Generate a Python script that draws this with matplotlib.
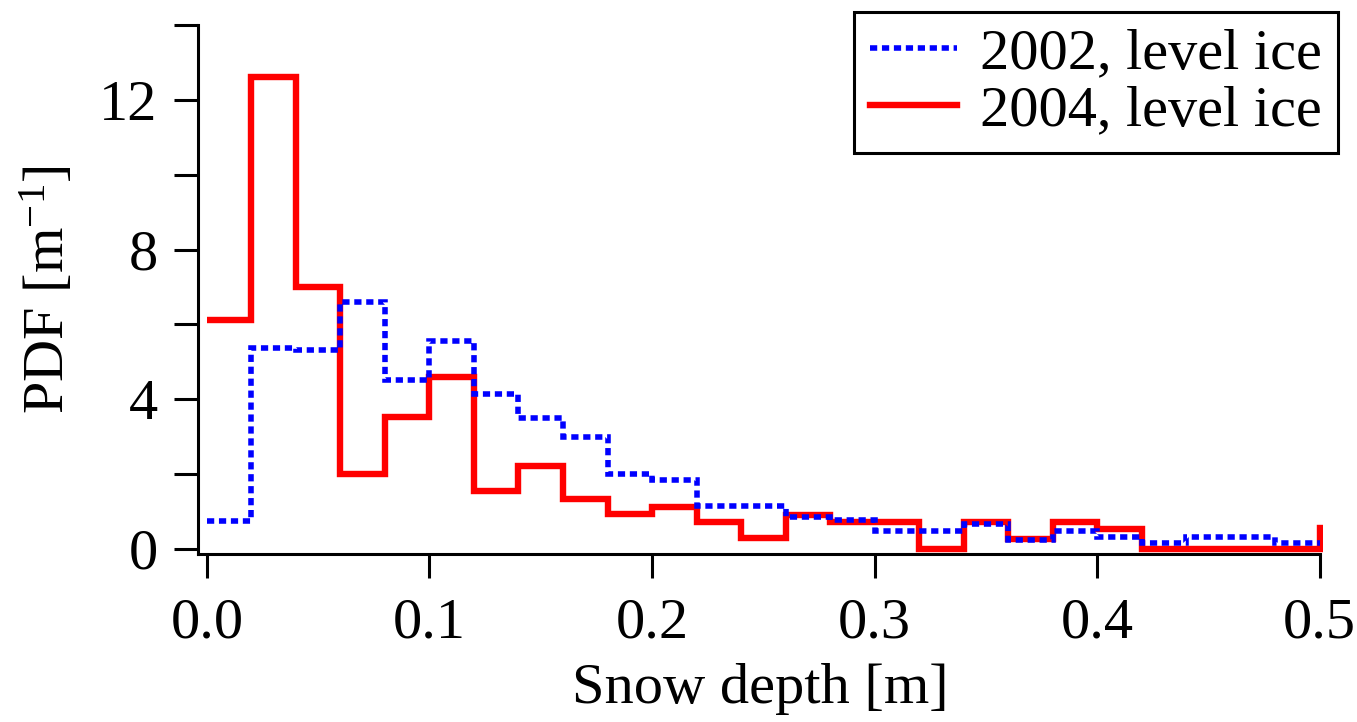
import numpy as np
import matplotlib
matplotlib.use("Agg")
import matplotlib.pyplot as plt
from matplotlib.ticker import MultipleLocator

plt.rcParams['font.family'] = ['Liberation Serif', 'DejaVu Serif']
plt.rcParams['mathtext.fontset'] = 'custom'
plt.rcParams['mathtext.rm'] = 'Liberation Serif'
plt.rcParams['mathtext.it'] = 'Liberation Serif:italic'

# bin edges of snow depth [m], 0.02 m bins
edges = np.round(np.arange(0, 0.5001, 0.02), 3)
# 2002, level ice
pdf_2002 = [0.74, 5.38, 5.31, 6.6, 4.52, 5.56, 4.15, 3.49, 2.98, 2.0,
            1.83, 1.14, 1.14, 0.86, 0.77, 0.49, 0.49, 0.67, 0.25, 0.49,
            0.31, 0.17, 0.31, 0.31, 0.17]
# 2004, level ice (last value is the bin just past 0.5 m)
pdf_2004 = [6.12, 12.62, 6.99, 2.0, 3.53, 4.59, 1.55, 2.22, 1.33, 0.94,
            1.12, 0.71, 0.28, 0.9, 0.71, 0.73, 0.0, 0.71, 0.26, 0.71,
            0.53, 0.0, 0.0, 0.0, 0.0, 0.55]
edges_2004 = np.append(edges, 0.52)

fig = plt.figure(figsize=(13.57, 7.22), dpi=100)
ax = fig.add_axes([0.1459, 0.232, 0.8291, 0.7334])

ax.stairs(pdf_2004, edges_2004, baseline=None, color='#ff0000', lw=4.6,
          label='2004, level ice')
ax.stairs(pdf_2002, edges, baseline=None, color='#0000ff', lw=4.0,
          linestyle=(0, (1.3, 0.85)), label='2002, level ice')

ax.set_xlim(-0.004, 0.5015)
ax.set_ylim(-0.15, 14)
ax.spines['top'].set_visible(False)
ax.spines['right'].set_visible(False)
ax.spines['bottom'].set_bounds(-0.004, 0.5)
for s in ('left', 'bottom'):
    ax.spines[s].set_linewidth(2.2)

ax.xaxis.set_major_locator(MultipleLocator(0.1))
ax.yaxis.set_major_locator(MultipleLocator(4))
ax.yaxis.set_minor_locator(MultipleLocator(2))
ax.xaxis.set_major_formatter(plt.FormatStrFormatter('%.1f'))
ax.tick_params(axis='both', which='both', direction='out', length=17,
               width=2.2, labelsize=42)
ax.tick_params(axis='x', pad=14)
ax.tick_params(axis='y', pad=12)

ax.set_xlabel('Snow depth [m]', fontsize=42)
ax.set_ylabel(r'PDF [m$^{-1}$]', fontsize=42)
ax.xaxis.set_label_coords(0.5, -0.205)
ax.yaxis.set_label_coords(-0.108, 0.5)

h, l = ax.get_legend_handles_labels()
leg = ax.legend(h[::-1], l[::-1], loc='upper right',
                bbox_to_anchor=(0.986, 0.9834), bbox_transform=fig.transFigure,
                fontsize=42, handlelength=1.5, handletextpad=0.4,
                labelspacing=0.07, borderpad=0.27, borderaxespad=0,
                fancybox=False, framealpha=1, edgecolor='black')
leg.get_frame().set_linewidth(2.2)

fig.savefig('out.png', dpi=100)
